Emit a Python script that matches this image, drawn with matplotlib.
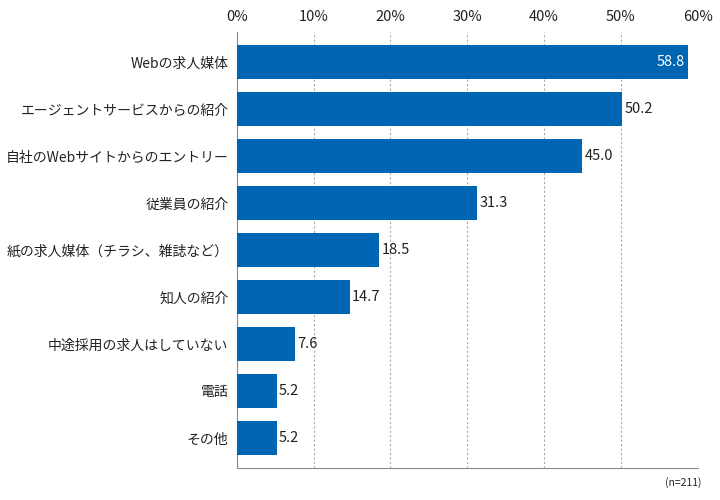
import matplotlib
matplotlib.use("Agg")
import matplotlib.pyplot as plt

plt.rcParams['font.family'] = ['Noto Sans CJK JP', 'DejaVu Sans']

categories = ['Webの求人媒体', 'エージェントサービスからの紹介', '自社のWebサイトからのエントリー',
              '従業員の紹介', '紙の求人媒体（チラシ、雑誌など）', '知人の紹介',
              '中途採用の求人はしていない', '電話', 'その他']
values = [58.8, 50.2, 45.0, 31.3, 18.5, 14.7, 7.6, 5.2, 5.2]
ticks = [0, 10, 20, 30, 40, 50, 60]

fig = plt.figure(figsize=(7.2, 5.0), dpi=100)
ax = fig.add_axes([0.329, 0.064, 0.64, 0.872])

ypos = range(len(values))
ax.barh(ypos, values, height=0.72, color='#0066b3', zorder=3)
ax.set_xlim(0, 60)
ax.set_ylim(len(values) - 0.36, -0.64)

for i, v in enumerate(values):
    if i == 0:
        ax.text(v - 0.5, i, f'{v:.1f}', ha='right', va='center', color='white', fontsize=10.5, zorder=4)
    else:
        ax.text(v + 0.3, i, f'{v:.1f}', ha='left', va='center', color='#222222', fontsize=10.5, zorder=4)

ax.xaxis.tick_top()
ax.set_xticks(ticks)
ax.set_xticklabels([f'{t}%' for t in ticks], fontsize=10.5, color='#222222')
ax.set_yticks(list(ypos))
ax.set_yticklabels(categories, fontsize=10, color='#222222')
ax.tick_params(length=0, pad=6)
ax.xaxis.grid(True, linestyle=(0, (2, 2)), color='#aaaaaa', linewidth=0.8, zorder=0)
for s in ['top', 'right']:
    ax.spines[s].set_visible(False)
ax.spines['left'].set_color('#888888')
ax.spines['bottom'].set_color('#888888')

fig.text(0.975, 0.035, '(n=211)', ha='right', va='center', fontsize=7.5, color='#222222')

fig.savefig('out.png', dpi=100)
